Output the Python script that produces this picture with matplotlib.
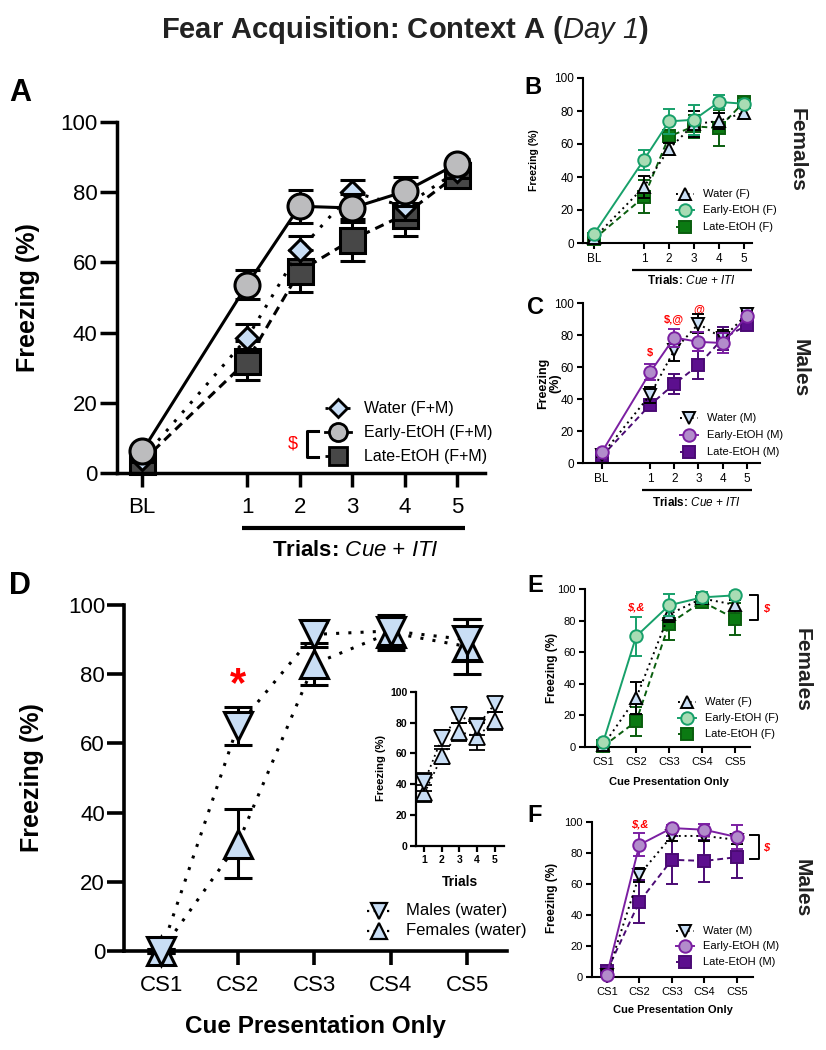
import numpy as np
import matplotlib
matplotlib.use("Agg")
import matplotlib.pyplot as plt
from matplotlib.lines import Line2D

plt.rcParams['font.family'] = ['Liberation Sans', 'DejaVu Sans']
plt.rcParams['mathtext.fontset'] = 'custom'
plt.rcParams['mathtext.rm'] = 'Liberation Sans'
plt.rcParams['mathtext.it'] = 'Liberation Sans:italic'
plt.rcParams['mathtext.sf'] = 'Liberation Sans:italic'  # used for italic runs incl. digits
plt.rcParams['mathtext.bf'] = 'Liberation Sans:bold'

# ---- data ----
trial_x = [-1, 1, 2, 3, 4, 5]
trial_labels = ['BL', '1', '2', '3', '4', '5']
cs_x = [1, 2, 3, 4, 5]
cs_labels = ['CS1', 'CS2', 'CS3', 'CS4', 'CS5']

# A: F+M combined
water_fm = [4, 38.5, 63.5, 80, 76, 86]
water_fm_err = [1, 4, 4, 3.5, 4, 2]
early_fm = [6.2, 53.7, 76, 75.5, 80.2, 88.1]
early_fm_err = [1, 4, 4.7, 4, 4, 1.5]
late_fm = [3.3, 32, 57.5, 66.5, 73.6, 85]
late_fm_err = [1, 5.5, 6, 6, 6, 2]

# B: females
water_f = [3, 34, 57, 72, 74, 79]
water_f_err = [1, 6.5, 3.5, 8, 5, 3.5]
early_f = [5.5, 50.5, 73.7, 74.7, 85.5, 84.4]
early_f_err = [1, 6, 7.7, 9, 4.4, 2]
late_f = [2.4, 27.9, 64.6, 70.7, 69.7, 85.5]
late_f_err = [1, 10, 4, 7, 11, 2]

# C: males
water_m = [5, 42.5, 70.5, 87, 78, 93]
water_m_err = [1, 5, 7, 6, 5, 2]
early_m = [6.6, 56.6, 78.4, 75.7, 75, 91.7]
early_m_err = [1, 5, 5.6, 6, 6, 2]
late_m = [4.1, 36.3, 49.4, 61.2, 77.8, 86.1]
late_m_err = [1, 3, 6, 9, 7, 3]

# D: water, cue presentation only
males_water = [0, 65, 91.5, 92.5, 90]
males_water_err = [0.5, 5.5, 3.5, 4, 6]
females_water = [0, 31, 83, 92, 88]
females_water_err = [0.5, 10, 6, 5, 8]

# D inset: trials
inset_x = [1, 2, 3, 4, 5]
males_trial = [41.5, 70, 85, 77.5, 92]
males_trial_err = [6, 5, 5, 5.5, 5]
females_trial = [34, 58, 74, 71, 81]
females_trial_err = [5.5, 5, 6, 8.5, 6]

# E: females, cue only
water_f_cs = [1, 31, 84, 94, 90]
water_f_cs_err = [0.5, 10, 5, 3, 3]
early_f_cs = [3, 70, 89.7, 94.7, 96]
early_f_cs_err = [1, 12.5, 7, 3.5, 2]
late_f_cs = [0.4, 16.2, 78, 92, 81.2]
late_f_cs_err = [0.5, 9, 10, 3, 10]

# F: males, cue only
water_m_cs = [1, 66, 91, 91, 88.5]
water_m_cs_err = [0.5, 4.5, 3, 3.5, 3]
early_m_cs = [1.5, 85.3, 96.1, 95, 90.3]
early_m_cs_err = [1, 7.5, 2, 4, 8]
late_m_cs = [3.9, 48.6, 75.6, 74.9, 77.3]
late_m_cs_err = [1, 14, 15.5, 13.8, 13.7]

# colours
water_c = '#c9def5'
gray_c = '#bcbcbe'
dark_c = '#474747'
fe_fill, fe_line = '#a9dcb4', '#17a06a'
fl_fill, fl_line = '#0b7a12', '#0a5e0e'
me_fill, me_line = '#b28ccb', '#7b1fa2'
ml_fill, ml_line = '#5c0f8e', '#4b0a75'
red = '#ff0000'

W, H = 826, 1050
fig = plt.figure(figsize=(W / 100, H / 100), dpi=100)


def fx(x):
    return x / W


def fy(y):
    return 1 - y / H


def add_ax(x0, ytop, x1, ybot):
    return fig.add_axes([x0 / W, 1 - ybot / H, (x1 - x0) / W, (ybot - ytop) / H])


def style_ax(ax, xlim, spw, ytl, xtl, fs, xpad=3):
    ax.set_xlim(*xlim)
    ax.set_ylim(0, 100)
    for s in ['top', 'right']:
        ax.spines[s].set_visible(False)
    for s in ['left', 'bottom']:
        ax.spines[s].set_linewidth(spw)
    ax.set_yticks([0, 20, 40, 60, 80, 100])
    ax.tick_params(axis='y', length=ytl, width=spw, labelsize=fs, pad=2)
    ax.tick_params(axis='x', length=xtl, width=spw, labelsize=fs, pad=xpad)
    ax.patch.set_alpha(0)


def series(ax, x, y, e, marker, ms, fill, edge, ls, lw, cap, z, lcolor=None):
    lc = edge if lcolor is None else lcolor
    ax.plot(x, y, ls=ls, color=lc, lw=lw, zorder=z, clip_on=False)
    ax.errorbar(x, y, yerr=e, fmt='none', ecolor=edge, elinewidth=lw,
                capsize=cap, capthick=lw, zorder=z + 0.1, clip_on=False)
    ax.plot(x, y, ls='none', marker=marker, ms=ms, mfc=fill, mec=edge,
            mew=lw, zorder=z + 0.2, clip_on=False)


def legend_rows(mx, tx, ys, entries, fs, hl, lw):
    for y, (marker, ms, fill, edge, ls, lc, label) in zip(ys, entries):
        fig.add_artist(Line2D([fx(mx - hl), fx(mx + hl)], [fy(y), fy(y)], ls=ls,
                              color=lc, lw=lw, transform=fig.transFigure))
        fig.add_artist(Line2D([fx(mx)], [fy(y)], ls='none', marker=marker, ms=ms,
                              mfc=fill, mec=edge, mew=lw, transform=fig.transFigure))
        fig.text(fx(tx), fy(y), label, fontsize=fs, va='center', ha='left')


def hline(x0, x1, y, lw, color='black'):
    fig.add_artist(Line2D([fx(x0), fx(x1)], [fy(y), fy(y)], color=color, lw=lw,
                          transform=fig.transFigure, solid_capstyle='butt'))


def bracket(x0, x1, y0, y1, lw):
    fig.add_artist(Line2D([fx(x0), fx(x1), fx(x1), fx(x0)], [fy(y0), fy(y0), fy(y1), fy(y1)],
                          color='black', lw=lw, transform=fig.transFigure))


dot_big = (0, (1, 3))
dash_big = (0, (3, 2))
dot_small = (0, (1, 2))
dash_small = (0, (3, 2))
trials_txt = r'Trials: $\mathsf{Cue}$ $\mathsf{+}$ $\mathsf{ITI}$'

# ---- title ----
fig.text(fx(405), fy(30), r'Fear Acquisition: Context A ($\mathsf{Day\ 1}$)',
         ha='center', va='center', fontsize=21, fontweight='bold', color='#222222')

# ---- panel A ----
axA = add_ax(117, 122, 485, 473)
style_ax(axA, (-1.48, 5.53), 2.5, 12, 10, 16, xpad=7)
axA.set_xticks(trial_x)
axA.set_xticklabels(trial_labels)
series(axA, trial_x, late_fm, late_fm_err, 's', 18, dark_c, 'black', dash_big, 2.2, 9, 2)
series(axA, trial_x, water_fm, water_fm_err, 'D', 11, water_c, 'black', dot_big, 2.2, 9, 3)
series(axA, trial_x, early_fm, early_fm_err, 'o', 18, gray_c, 'black', '-', 2.2, 9, 4)
fig.text(fx(28), fy(298), 'Freezing (%)', rotation=90, ha='center', va='center',
         fontsize=18, fontweight='bold')
fig.text(fx(20), fy(93), 'A', ha='center', va='center', fontsize=22, fontweight='bold')
hline(242, 465, 528, 3)
fig.text(fx(355), fy(551), trials_txt, ha='center', va='center',
         fontsize=16, fontweight='bold')
legend_rows(338, 364, [408, 432, 456],
            [('D', 9, water_c, 'black', dot_big, 'black', 'Water (F+M)'),
             ('o', 13, gray_c, 'black', '-', 'black', 'Early-EtOH (F+M)'),
             ('s', 13, dark_c, 'black', dash_big, 'black', 'Late-EtOH (F+M)')],
            11.5, 13, 2.0)
bracket(318, 307, 431, 457, 2.2)
fig.text(fx(293), fy(444), '$', color=red, fontsize=13, ha='center', va='center')

# ---- panel B ----
axB = add_ax(583, 78, 752, 243)
style_ax(axB, (-1.44, 5.32), 1.5, 4.5, 4.5, 8.5)
axB.set_xticks(trial_x)
axB.set_xticklabels(trial_labels)
series(axB, trial_x, late_f, late_f_err, 's', 9, fl_fill, fl_line, dash_small, 1.4, 4.5, 2)
series(axB, trial_x, water_f, water_f_err, '^', 9, water_c, 'black', dot_small, 1.4, 4.5, 3)
series(axB, trial_x, early_f, early_f_err, 'o', 9, fe_fill, fe_line, '-', 1.4, 4.5, 4)
fig.text(fx(534), fy(160), 'Freezing (%)', rotation=90, ha='center', va='center',
         fontsize=7.5, fontweight='bold')
fig.text(fx(533), fy(88), 'B', ha='center', va='center', fontsize=17, fontweight='bold')
hline(632, 752, 270, 1.6)
fig.text(fx(692), fy(281), trials_txt, ha='center', va='center',
         fontsize=8.5, fontweight='bold')
legend_rows(685, 703, [194, 210, 227],
            [('^', 9, water_c, 'black', dot_small, 'black', 'Water (F)'),
             ('o', 9, fe_fill, fe_line, '-', fe_line, 'Early-EtOH (F)'),
             ('s', 9, fl_fill, fl_line, dash_small, fl_line, 'Late-EtOH (F)')],
            8, 9, 1.4)
fig.text(fx(797), fy(150), 'Females', rotation=270, ha='center', va='center',
         fontsize=15, fontweight='bold', color='#222222')

# ---- panel C ----
axC = add_ax(583, 303, 760, 463)
style_ax(axC, (-1.77, 5.54), 1.5, 4.5, 4.5, 8.5)
axC.set_xticks(trial_x)
axC.set_xticklabels(trial_labels)
series(axC, trial_x, late_m, late_m_err, 's', 9, ml_fill, ml_line, dash_small, 1.4, 4.5, 2)
series(axC, trial_x, water_m, water_m_err, 'v', 9, water_c, 'black', dot_small, 1.4, 4.5, 3)
series(axC, trial_x, early_m, early_m_err, 'o', 9, me_fill, me_line, '-', 1.4, 4.5, 4)
fig.text(fx(549), fy(383), 'Freezing\n(%)', rotation=90, ha='center', va='center',
         fontsize=9, fontweight='bold', linespacing=1.0)
fig.text(fx(535), fy(308), 'C', ha='center', va='center', fontsize=17, fontweight='bold')
hline(642, 752, 490, 1.6)
fig.text(fx(697), fy(502), trials_txt, ha='center', va='center',
         fontsize=8.5, fontweight='bold')
legend_rows(689, 707, [418, 435, 452],
            [('v', 9, water_c, 'black', dot_small, 'black', 'Water (M)'),
             ('o', 9, me_fill, me_line, '-', me_line, 'Early-EtOH (M)'),
             ('s', 9, ml_fill, ml_line, dash_small, ml_line, 'Late-EtOH (M)')],
            8, 9, 1.4)
for xx, yy, s in [(1, 69, '$'), (2, 89.6, '$,@'), (3, 95.8, '@')]:
    axC.text(xx, yy, s, color=red, fontsize=8, fontweight='bold', ha='center', va='center')
fig.text(fx(800), fy(368), 'Males', rotation=270, ha='center', va='center',
         fontsize=15, fontweight='bold', color='#222222')

# ---- panel D ----
axD = add_ax(124.5, 605, 507, 951)
style_ax(axD, (0.52, 5.52), 2.6, 12, 10, 16, xpad=7)
axD.set_xticks(cs_x)
axD.set_xticklabels(cs_labels)
series(axD, cs_x, females_water, females_water_err, '^', 20, water_c, 'black', dot_big, 2.2, 10, 2)
series(axD, cs_x, males_water, males_water_err, 'v', 20, water_c, 'black', dot_big, 2.2, 10, 3)
axD.text(2, 77, '*', color=red, fontsize=30, fontweight='bold', ha='center', va='center')
fig.text(fx(32), fy(778), 'Freezing (%)', rotation=90, ha='center', va='center',
         fontsize=18, fontweight='bold')
fig.text(fx(20), fy(586), 'D', ha='center', va='center', fontsize=22, fontweight='bold')
fig.text(fx(315), fy(1026), 'Cue Presentation Only', ha='center', va='center',
         fontsize=17.5, fontweight='bold')
legend_rows(379, 406, [911, 931],
            [('v', 11.5, water_c, 'black', dot_small, 'black', 'Males (water)'),
             ('^', 11.5, water_c, 'black', dot_small, 'black', 'Females (water)')],
            12, 12, 1.6)

# inset
axI = add_ax(415.6, 692, 504, 845.5)
style_ax(axI, (0.5, 5.54), 1.6, 4, 4, 7.5)
axI.set_xticks(inset_x)
series(axI, inset_x, females_trial, females_trial_err, '^', 12, water_c, 'black', dot_small, 1.3, 6, 2)
series(axI, inset_x, males_trial, males_trial_err, 'v', 12, water_c, 'black', dot_small, 1.3, 6, 3)
for t in axI.get_xticklabels() + axI.get_yticklabels():
    t.set_fontweight('bold')
fig.text(fx(381), fy(768), 'Freezing (%)', rotation=90, ha='center', va='center',
         fontsize=8, fontweight='bold')
fig.text(fx(460), fy(882), 'Trials', ha='center', va='center', fontsize=10, fontweight='bold')

# ---- panel E ----
axE = add_ax(585, 589, 750, 747)
style_ax(axE, (0.45, 5.45), 1.5, 4.5, 4.5, 8)
axE.set_xticks(cs_x)
axE.set_xticklabels(cs_labels)
series(axE, cs_x, late_f_cs, late_f_cs_err, 's', 9, fl_fill, fl_line, dash_small, 1.4, 4.5, 2)
series(axE, cs_x, water_f_cs, water_f_cs_err, '^', 9, water_c, 'black', dot_small, 1.4, 4.5, 3)
series(axE, cs_x, early_f_cs, early_f_cs_err, 'o', 9, fe_fill, fe_line, '-', 1.4, 4.5, 4)
axE.text(2, 88.6, '$,&', color=red, fontsize=8, fontweight='bold', style='italic',
         ha='center', va='center')
fig.text(fx(552), fy(668), 'Freezing (%)', rotation=90, ha='center', va='center',
         fontsize=8.5, fontweight='bold')
fig.text(fx(535), fy(585), 'E', ha='center', va='center', fontsize=17, fontweight='bold')
fig.text(fx(669), fy(782), 'Cue Presentation Only', ha='center', va='center',
         fontsize=8, fontweight='bold')
legend_rows(687, 705, [702, 718, 734],
            [('^', 9, water_c, 'black', dot_small, 'black', 'Water (F)'),
             ('o', 9, fe_fill, fe_line, '-', fe_line, 'Early-EtOH (F)'),
             ('s', 9, fl_fill, fl_line, dash_small, fl_line, 'Late-EtOH (F)')],
            8, 9, 1.4)
bracket(750, 758, 595, 620, 1.4)
fig.text(fx(766), fy(608), '$', color=red, fontsize=8, fontweight='bold', style='italic',
         ha='center', va='center')
fig.text(fx(802), fy(670), 'Females', rotation=270, ha='center', va='center',
         fontsize=15, fontweight='bold', color='#222222')

# ---- panel F ----
axF = add_ax(592, 822, 753, 977)
style_ax(axF, (0.54, 5.5), 1.5, 4.5, 4.5, 8)
axF.set_xticks(cs_x)
axF.set_xticklabels(cs_labels)
series(axF, cs_x, late_m_cs, late_m_cs_err, 's', 9, ml_fill, ml_line, dash_small, 1.4, 4.5, 2)
series(axF, cs_x, water_m_cs, water_m_cs_err, 'v', 9, water_c, 'black', dot_small, 1.4, 4.5, 3)
series(axF, cs_x, early_m_cs, early_m_cs_err, 'o', 9, me_fill, me_line, '-', 1.4, 4.5, 4)
axF.text(2, 98.3, '$,&', color=red, fontsize=8, fontweight='bold', style='italic',
         ha='center', va='center')
fig.text(fx(552), fy(898), 'Freezing (%)', rotation=90, ha='center', va='center',
         fontsize=8.5, fontweight='bold')
fig.text(fx(535), fy(815), 'F', ha='center', va='center', fontsize=17, fontweight='bold')
fig.text(fx(673), fy(1010), 'Cue Presentation Only', ha='center', va='center',
         fontsize=8, fontweight='bold')
legend_rows(685, 703, [931, 946, 962],
            [('v', 9, water_c, 'black', dot_small, 'black', 'Water (M)'),
             ('o', 9, me_fill, me_line, '-', me_line, 'Early-EtOH (M)'),
             ('s', 9, ml_fill, ml_line, dash_small, ml_line, 'Late-EtOH (M)')],
            8, 9, 1.4)
bracket(750, 759, 835, 859, 1.4)
fig.text(fx(766), fy(847), '$', color=red, fontsize=8, fontweight='bold', style='italic',
         ha='center', va='center')
fig.text(fx(802), fy(888), 'Males', rotation=270, ha='center', va='center',
         fontsize=15, fontweight='bold', color='#222222')

fig.savefig('out.png', dpi=100)
